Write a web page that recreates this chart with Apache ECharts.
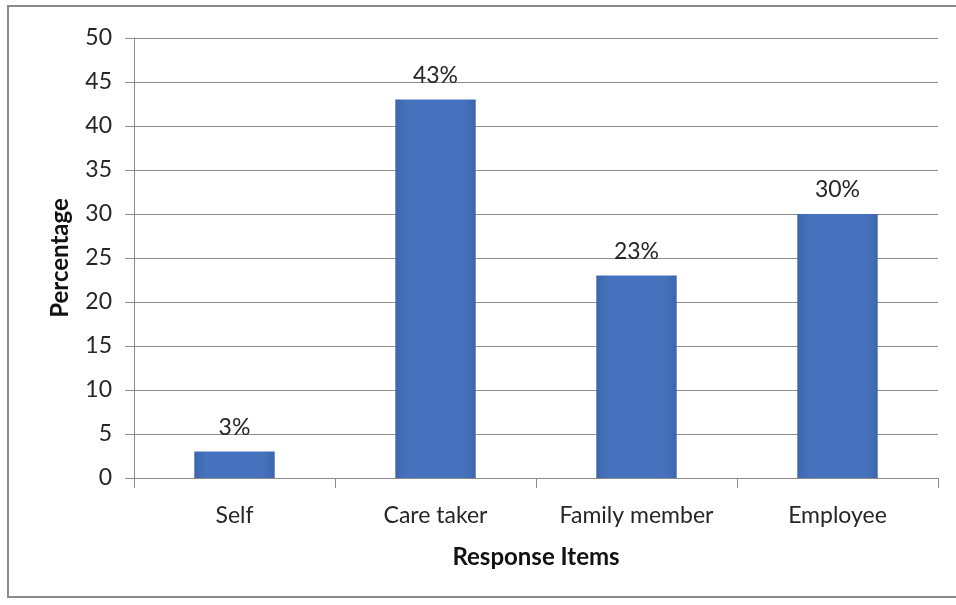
<!DOCTYPE html>
<html>
<head>
<meta charset="utf-8">
<script src="https://cdn.jsdelivr.net/npm/echarts@6/dist/echarts.min.js"></script>
<style>
  html, body { margin: 0; padding: 0; background: #ffffff; }
  #chart { width: 956px; height: 605px; }
</style>
</head>
<body>
<div id="chart"></div>
<script>
// Who responded: share of respondents by response item
const categories = ['Self', 'Care taker', 'Family member', 'Employee'];
const percentages = [3, 43, 23, 30];
const yTicks = { min: 0, max: 50, interval: 5 };

const fontFamily = 'Lato, "Open Sans", "Liberation Sans", sans-serif';

const chart = echarts.init(document.getElementById('chart'));

chart.setOption({
  backgroundColor: '#ffffff',
  animation: false,
  graphic: [{
    type: 'rect',
    silent: true,
    shape: { x: 8, y: 6, width: 970, height: 591 },
    style: { fill: 'none', stroke: '#8a8a8a', lineWidth: 2 }
  }],
  grid: { left: 134, right: 18, top: 38, bottom: 127, containLabel: false },
  xAxis: {
    type: 'category',
    data: categories,
    name: 'Response Items',
    nameLocation: 'middle',
    nameGap: 67,
    nameTextStyle: { fontFamily, fontSize: 24, fontWeight: 'bold', color: '#111' },
    axisLine: { lineStyle: { color: '#8c8c8c', width: 1 } },
    axisTick: { show: true, length: 10, alignWithLabel: false, lineStyle: { color: '#8c8c8c' } },
    axisLabel: { fontFamily, fontSize: 23, color: '#262626', margin: 26 }
  },
  yAxis: {
    type: 'value',
    min: yTicks.min,
    max: yTicks.max,
    interval: yTicks.interval,
    name: 'Percentage',
    nameLocation: 'middle',
    nameGap: 62,
    nameRotate: 90,
    nameTextStyle: { fontFamily, fontSize: 24, fontWeight: 'bold', color: '#111' },
    axisLine: { show: true, lineStyle: { color: '#8c8c8c', width: 1 } },
    axisTick: { show: true, length: 9, lineStyle: { color: '#8c8c8c' } },
    axisLabel: { fontFamily, fontSize: 23, color: '#262626', margin: 22 },
    splitLine: { show: true, lineStyle: { color: '#8c8c8c', width: 1 } }
  },
  series: [{
    type: 'bar',
    data: percentages,
    barWidth: '40%',
    itemStyle: {
      color: new echarts.graphic.LinearGradient(0, 0, 1, 0, [
        { offset: 0, color: '#3d66ae' },
        { offset: 0.15, color: '#4672bd' },
        { offset: 0.85, color: '#4672bd' },
        { offset: 1, color: '#3d66ae' }
      ])
    },
    label: {
      show: true,
      position: 'top',
      distance: 13,
      formatter: p => p.value + '%',
      fontFamily,
      fontSize: 23,
      color: '#262626'
    }
  }]
});
</script>
</body>
</html>
